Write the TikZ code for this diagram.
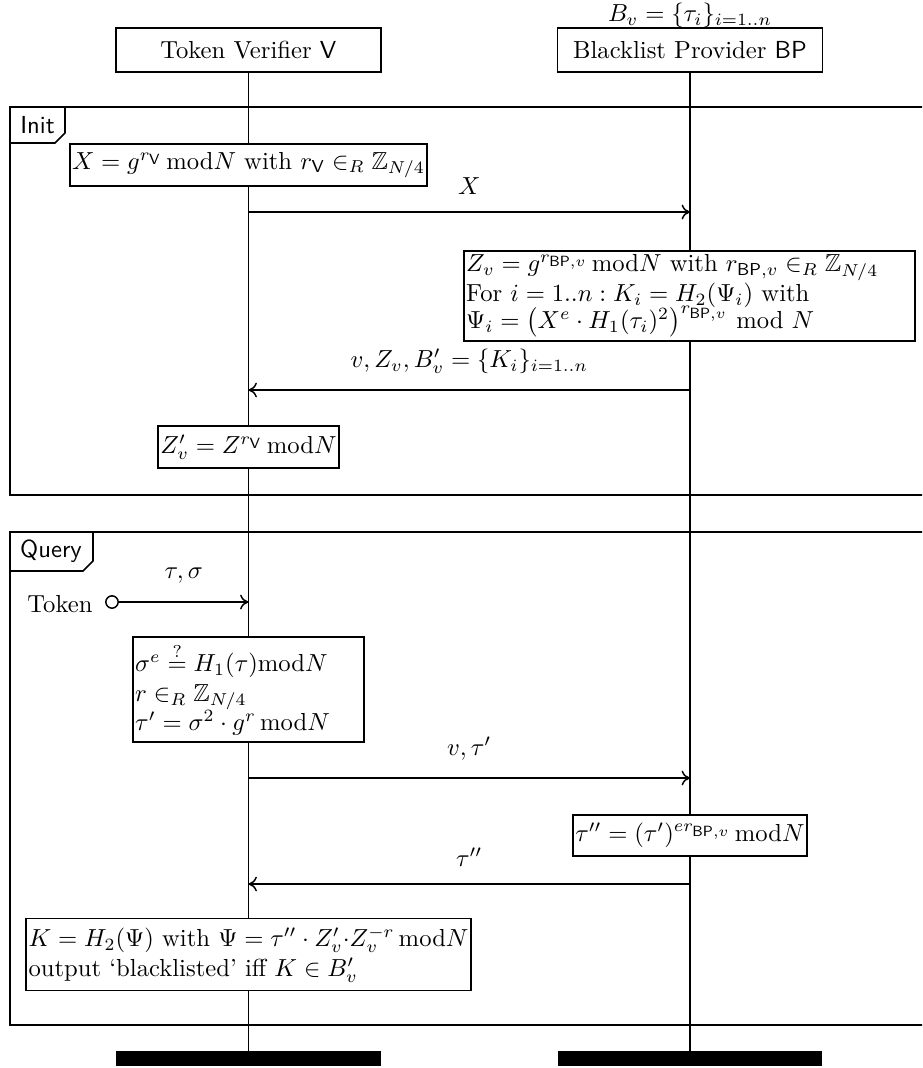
\documentclass[tikz,border=0pt]{standalone}
\usepackage{amsmath,amssymb}
\usetikzlibrary{arrows.meta}
\DeclareMathSizes{10}{10}{7}{6}
\begin{document}
\begin{tikzpicture}[x=0.4057pt,y=-0.4057pt,
  lifeline/.style={line width=0.45pt},
  frame/.style={line width=0.7pt},
  headbox/.style={draw, line width=0.7pt, fill=white, minimum width=107.5pt, minimum height=17.85pt, inner sep=0pt},
  actbox/.style={draw, line width=0.7pt, fill=white, inner xsep=0.9pt, inner ysep=3.4pt, align=left},
  msg/.style={-{To[length=3.4pt,width=6pt]}, line width=0.6pt},
  lbl/.style={inner sep=0pt},
  bar/.style={fill=black, minimum width=107.5pt, minimum height=6.1pt, inner sep=0pt}
]
\clip (0,0) rectangle (922,1068);
% participants
\node[headbox] (V) at (248.5,50) {Token Verifier $\mathsf{V}$};
\node[headbox] (BP) at (690,50) {Blacklist Provider $\mathsf{BP}$};
\node[lbl] (Bv) at (690,15.5) {$B_v = \{\tau_i\}_{i=1..n}$};
\node[bar] (Vbar) at (248.5,1058.5) {};
\node[bar] (BPbar) at (690,1058.5) {};
\draw[lifeline] (V.south) -- (Vbar.north);
\draw[lifeline] (BP.south) -- (BPbar.north);
% frames
\draw[frame] (1000,107) -- (10,107) -- (10,495) -- (1000,495);
\draw[frame] (10,143) -- (55,143) -- (65,133) -- (65,107);
\node[lbl,font=\sffamily] (init) at (37.5,125) {Init};
\draw[frame] (1000,532) -- (10,532) -- (10,1025) -- (1000,1025);
\draw[frame] (10,571) -- (83,571) -- (93,561) -- (93,532);
\node[lbl,font=\sffamily] (query) at (51,551) {Query};
% init phase
\node[actbox] (xbox) at (248.5,165) {$X = g^{r_{\mathsf{V}}}\,\mathrm{mod} N$ with $r_{\mathsf{V}} \in_R \mathbb{Z}_{N/4}$};
\coordinate (m1a) at (248.5,212);
\coordinate (m1b) at (690,212);
\draw[msg] (m1a) -- node[above=3.5pt] {$X$} (m1b);
\node[actbox, text width=181.2pt, inner ysep=1.6pt] (bpbox) at (689.5,296) {$Z_v = g^{r_{\mathsf{BP},v}}\,\mathrm{mod} N$ with $r_{\mathsf{BP},v} \in_R \mathbb{Z}_{N/4}$\\
For $i = 1..n : K_i = H_2(\Psi_i)$ with\\[-1pt]
$\Psi_i = \big(X^e \cdot H_1(\tau_i)^2\big)^{r_{\mathsf{BP},v}}$ mod $N$};
\coordinate (m2a) at (690,390);
\coordinate (m2b) at (248.5,390);
\draw[msg] (m2a) -- node[above=3pt] {$v, Z_v, B'_v = \{K_i\}_{i=1..n}$} (m2b);
\node[actbox] (zbox) at (248.5,447) {$Z'_v = Z^{r_{\mathsf{V}}}\,\mathrm{mod} N$};
% query phase
\node[circle, draw, line width=0.6pt, minimum size=5pt, inner sep=0pt] (tok) at (112,602) {};
\node[lbl, anchor=east] (toklbl) at (93,604) {Token};
\coordinate (q1) at (248.5,602);
\draw[msg] (tok) -- node[above=4pt] {$\tau, \sigma$} (q1);
\node[actbox, text width=91.9pt, inner ysep=2.6pt] (sbox) at (248.5,689.5) {$\sigma^e \stackrel{?}{=} H_1(\tau)\mathrm{mod} N$\\
$r \in_R \mathbb{Z}_{N/4}$\\
$\tau' = \sigma^2 \cdot g^r\,\mathrm{mod} N$};
\coordinate (q2a) at (248.5,778);
\coordinate (q2b) at (690,778);
\draw[msg] (q2a) -- node[above=3.5pt] {$v, \tau'$} (q2b);
\node[actbox] (tbox) at (690,835.5) {$\tau'' = (\tau')^{e r_{\mathsf{BP},v}}\,\mathrm{mod} N$};
\coordinate (q3a) at (690,884);
\coordinate (q3b) at (248.5,884);
\draw[msg] (q3a) -- node[above=3.5pt] {$\tau''$} (q3b);
\node[actbox] (kbox) at (248.5,954.5) {$K = H_2(\Psi)$ with $\Psi = \tau''\cdot Z'_v{\cdot}Z_v^{-r}\,\mathrm{mod} N$\\
output `blacklisted' iff $K \in B'_v$};
\end{tikzpicture}
\end{document}
